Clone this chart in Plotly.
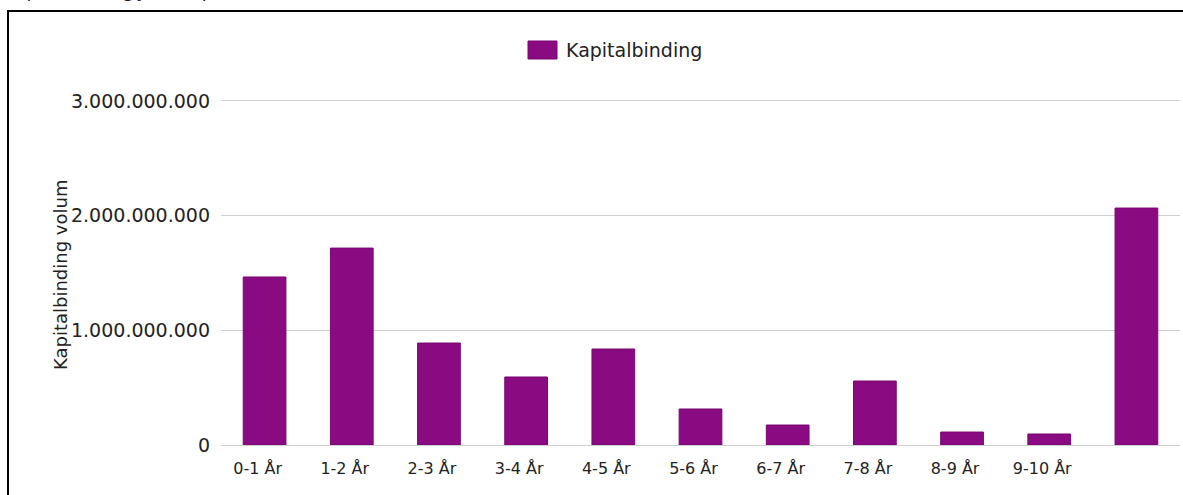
import plotly.graph_objects as go

# Capital tied up per age bracket
categories = ["0-1 År", "1-2 År", "2-3 År", "3-4 År", "4-5 År", "5-6 År",
              "6-7 År", "7-8 År", "8-9 År", "9-10 År", ""]
kapitalbinding = [1.465e9, 1.717e9, 0.889e9, 0.593e9, 0.837e9, 0.314e9,
                  0.174e9, 0.558e9, 0.113e9, 0.096e9, 2.066e9]
y_ticks = [0, 1e9, 2e9, 3e9]
y_ticktext = ["0", "1.000.000.000", "2.000.000.000", "3.000.000.000"]
y_title = "Kapitalbinding volum"
series_name = "Kapitalbinding"
bar_color = "#8a0a82"

positions = list(range(len(categories)))

fig = go.Figure()
fig.add_trace(go.Bar(
    x=positions,
    y=kapitalbinding,
    name=series_name,
    marker=dict(color=bar_color, line=dict(color="#7a0672", width=1)),
    width=0.49,
    showlegend=False,
))

W, H = 1183, 495
L, R, T, B = 221, 3, 96, 50
pw = W - L - R
ph = H - T - B

def px_x(x):
    return (x - L) / pw

def px_y(y):
    return (H - B - y) / ph

FONT = "DejaVu Sans, Verdana, sans-serif"

fig.update_layout(
    width=W, height=H,
    margin=dict(l=L, r=R, t=T, b=B),
    paper_bgcolor="white",
    plot_bgcolor="white",
    font=dict(family=FONT, size=15, color="#222222"),
    separators=",.",
    xaxis=dict(
        tickmode="array",
        tickvals=positions,
        ticktext=categories,
        range=[-0.5, len(categories) - 0.5],
        showgrid=False,
        zeroline=False,
        showline=False,
        ticks="",
        ticklabelstandoff=12,
        ticklabelshift=-7,
        tickfont=dict(size=16),
    ),
    yaxis=dict(
        range=[0, 3.043e9],
        tickmode="array",
        tickvals=y_ticks,
        ticktext=y_ticktext,
        showgrid=True,
        gridcolor="#cfcfcf",
        gridwidth=1,
        zeroline=True,
        zerolinecolor="#cfcfcf",
        zerolinewidth=1,
        showline=False,
        ticks="",
        ticklabelstandoff=10,
        tickfont=dict(size=19),
    ),
    shapes=[
        # outer frame
        dict(type="rect", xref="paper", yref="paper",
             x0=px_x(8), x1=px_x(1195), y0=px_y(510), y1=px_y(11),
             line=dict(color="black", width=2), fillcolor="rgba(0,0,0,0)",
             layer="above"),
        # legend swatch
        dict(type="rect", xref="paper", yref="paper",
             x0=px_x(528), x1=px_x(557), y0=px_y(59), y1=px_y(41),
             line=dict(color="#7a0672", width=1), fillcolor=bar_color),
    ],
    annotations=[
        dict(text="<i>Kapitalbinding fordelt på alder</i>",
             xref="paper", yref="paper",
             x=px_x(4), xanchor="left",
             y=px_y(4), yanchor="bottom",
             showarrow=False,
             font=dict(family="Open Sans", size=20, color="#111111")),
        dict(text=series_name,
             xref="paper", yref="paper",
             x=px_x(564), xanchor="left",
             y=px_y(50), yanchor="middle",
             showarrow=False,
             font=dict(family=FONT, size=19, color="#222222")),
        # y-axis title
        dict(text=y_title,
             xref="paper", yref="paper",
             x=px_x(60), xanchor="center",
             y=px_y(275), yanchor="middle",
             textangle=-90,
             showarrow=False,
             font=dict(family=FONT, size=18, color="#222222")),
    ],
)

fig.write_html("out.html")
